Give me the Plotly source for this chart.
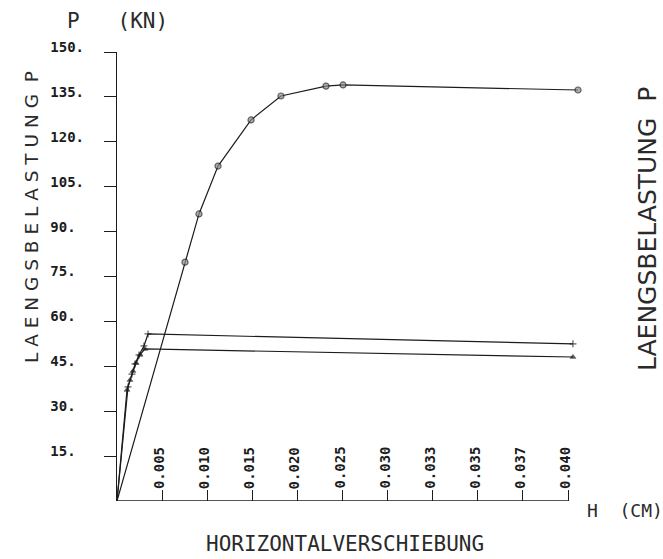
import plotly.graph_objects as go

# Kurve 1 (Kreise)
h_kreis = [0.0, 0.00754, 0.00909, 0.0112, 0.01486, 0.01818, 0.02317, 0.02506, 0.05111]
p_kreis = [0.0, 79.8, 95.9, 111.9, 127.3, 135.3, 138.6, 139.0, 137.3]

# Kurve 2 (Kreuze)
h_kreuz = [0.0, 0.00122, 0.00166, 0.0020, 0.00244, 0.00299, 0.00344, 0.05055]
p_kreuz = [0.0, 38.1, 42.4, 45.8, 48.8, 51.8, 55.8, 52.5]

# Kurve 3 (Dreiecke)
h_dreieck = [0.0, 0.00111, 0.00144, 0.00177, 0.00211, 0.00255, 0.0031, 0.05055]
p_dreieck = [0.0, 37.1, 40.4, 43.4, 46.1, 48.8, 50.8, 48.1]

x_tickvals = [0.005, 0.010, 0.015, 0.020, 0.025, 0.030, 0.035, 0.040, 0.045, 0.050]
x_ticktext = ["0.005", "0.010", "0.015", "0.020", "0.025", "0.030", "0.033", "0.035", "0.037", "0.040"]
y_tickvals = [15, 30, 45, 60, 75, 90, 105, 120, 135, 150]
y_ticktext = ["15.", "30.", "45.", "60.", "75.", "90.", "105.", "120.", "135.", "150."]

W, H = 663, 559
L, R, T, B = 117, 81, 52, 58
ink = "#1c1c1c"

def px(x, y):
    # Pixel -> paper coordinates (for text placement)
    return (x - L) / (W - L - R), (H - B - y) / (H - T - B)

fig = go.Figure()

fig.add_trace(go.Scatter(
    x=h_kreis, y=p_kreis, mode="lines+markers",
    line=dict(color=ink, width=1.2),
    marker=dict(symbol="circle", size=[0] + [6] * (len(h_kreis) - 1),
                color="#8c8c8c", line=dict(color=ink, width=1.2)),
    cliponaxis=False,
))
fig.add_trace(go.Scatter(
    x=h_kreuz, y=p_kreuz, mode="lines+markers",
    line=dict(color=ink, width=1.2),
    marker=dict(symbol="cross-thin", size=[0] + [5] * (len(h_kreuz) - 1),
                line=dict(color=ink, width=1.2)),
    cliponaxis=False,
))
fig.add_trace(go.Scatter(
    x=h_dreieck, y=p_dreieck, mode="lines+markers",
    line=dict(color=ink, width=1.2),
    marker=dict(symbol="triangle-up", size=[0] + [5] * (len(h_dreieck) - 1),
                color=ink, line=dict(color=ink, width=0.8)),
    cliponaxis=False,
))

# x-Achse endet am letzten Teilstrich
fig.add_shape(type="line", xref="x", yref="y", x0=0, y0=0, x1=x_tickvals[-1], y1=0,
              line=dict(color=ink, width=1.4))

tickfont = dict(family="DejaVu Sans Mono", size=14, color=ink, weight="bold")
fig.update_layout(
    width=W, height=H,
    margin=dict(l=L, r=R, t=T, b=B),
    paper_bgcolor="white", plot_bgcolor="white",
    showlegend=False,
    xaxis=dict(
        range=[0, (W - L - R) / 9020], showgrid=False, zeroline=False, showline=False,
        automargin=False, tickvals=x_tickvals, showticklabels=False,
        ticks="inside", ticklen=11, tickwidth=1.3, tickcolor=ink,
    ),
    yaxis=dict(
        range=[0, 150], showgrid=False, zeroline=False, showline=True,
        automargin=False, linecolor=ink, linewidth=1.4,
        tickvals=y_tickvals, ticktext=[t.ljust(4, "\u00a0") for t in y_ticktext],
        ticks="outside", ticklen=12, tickwidth=1.3, tickcolor=ink,
        ticklabelstandoff=17, ticklabelshift=-5, tickfont=tickfont,
    ),
)

ann = []
# x-Teilstrichbeschriftung, senkrecht ueber der Achse
for v, t in zip(x_tickvals, x_ticktext):
    ann.append(dict(text=t, x=v, xref="x", y=px(0, 491)[1], yref="paper",
                    textangle=-90, xanchor="center", yanchor="bottom", xshift=-3,
                    showarrow=False, font=tickfont))

title_font = dict(family="DejaVu Sans Mono", color="#2a2a2a")
titles = [
    ("P\u00a0\u00a0\u00a0(KN)", 117, 21, 0, dict(size=21, **title_font)),
    ("HORIZONTALVERSCHIEBUNG", 345, 544, 0, dict(size=21, **title_font)),
    ("H\u00a0\u00a0(CM)", 625, 510, 0, dict(size=18, **title_font)),
    (" ".join("LAENGSBELASTUNG") + "\u00a0\u00a0P", 31, 217, -90,
     dict(family="DejaVu Sans", size=18.5, color="#2a2a2a")),
    ("LAENGSBELASTUNG\u00a0\u00a0P", 647, 229, -90,
     dict(family="DejaVu Sans", size=25, color="#2a2a2a")),
]
for text, x, y, ang, f in titles:
    xp, yp = px(x, y)
    ann.append(dict(text=text, x=xp, y=yp, xref="paper", yref="paper", textangle=ang,
                    showarrow=False, xanchor="center", yanchor="middle", font=f))
fig.update_layout(annotations=ann)

fig.write_html("out.html", config={"displayModeBar": False},
               post_script="document.body.style.margin = '0';")
